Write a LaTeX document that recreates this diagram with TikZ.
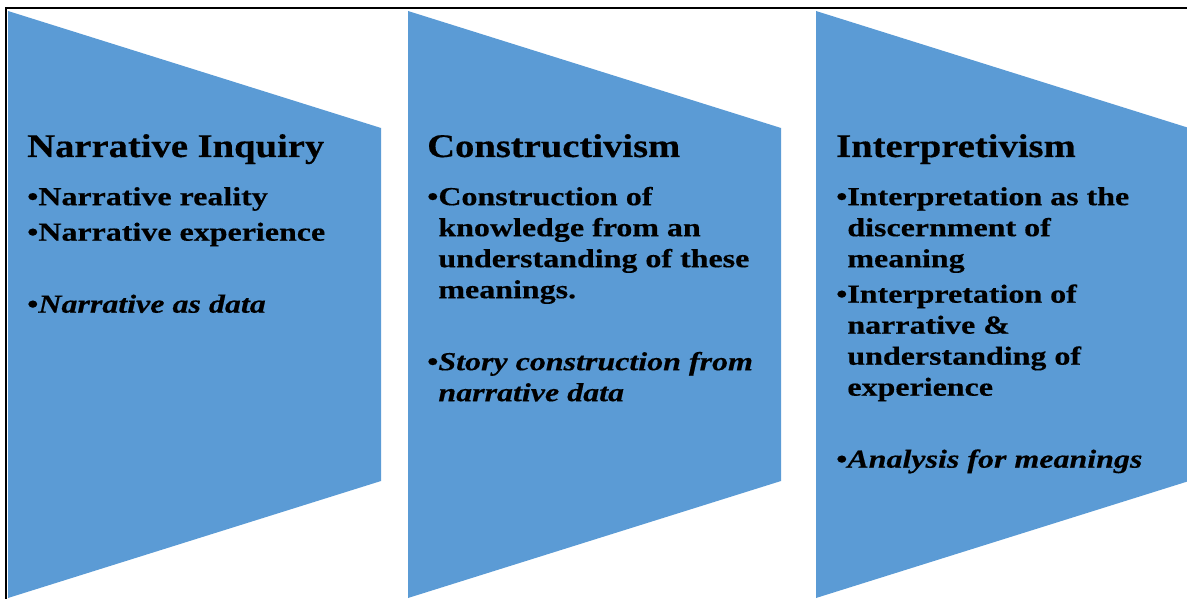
\documentclass[tikz,border=0pt]{standalone}
\usepackage{fontspec}
\setmainfont{Liberation Serif}[FakeStretch=1.17,FakeBold=0.4]
\newfontfamily\pointfont{Liberation Serif}[FakeStretch=1.23,FakeBold=0.4]
\definecolor{panelblue}{HTML}{5B9BD5}
\tikzset{
  panel/.style={fill=panelblue},
  heading/.style={anchor=base west, inner sep=0pt, font=\bfseries\fontsize{33}{39}\selectfont},
  points/.style={anchor=north west, inner sep=0pt, align=left, font=\pointfont\bfseries\fontsize{26}{31}\selectfont},
}
\newcommand{\itm}{\textbullet}
\newcommand{\cont}{\hphantom{\textbullet}}
\begin{document}
\begin{tikzpicture}[x=1pt,y=-1pt]
\useasboundingbox (0,0) rectangle (1187,599);
% frame
\draw[line width=1.5pt] (6,599) -- (6,8) -- (1187,8);
% panels
\fill[panel] (8,11) -- (381,128) -- (381,481) -- (8,598) -- cycle;
\fill[panel] (408,11) -- (781,128) -- (781,481) -- (408,598) -- cycle;
\fill[panel] (816,11) -- (1189,128) -- (1189,481) -- (816,598) -- cycle;
% headings
\node[heading] (narr) at (27,157) {Narrative Inquiry};
\node[heading] (cons) at (427,157) {Constructivism};
\node[heading] (intp) at (836,157) {Interpretivism};
% points
\node[points] (narrpts) at (27,183.3) {\strut\itm Narrative reality\\[4.5pt]
  \itm Narrative experience\\[41pt]
  \itm\textit{Narrative as data}};
\node[points] (conspts) at (427,183.3) {\strut\itm Construction of\\
  \cont knowledge from an\\
  \cont understanding of these\\
  \cont meanings.\\[41pt]
  \itm\textit{Story construction from}\\
  \cont\textit{narrative data}};
\node[points] (intppts) at (836,183.3) {\strut\itm Interpretation as the\\
  \cont discernment of\\
  \cont meaning\\[4.5pt]
  \itm Interpretation of\\
  \cont narrative \&\\
  \cont understanding of\\
  \cont experience\\[41pt]
  \itm\textit{Analysis for meanings}};
\end{tikzpicture}
\end{document}
